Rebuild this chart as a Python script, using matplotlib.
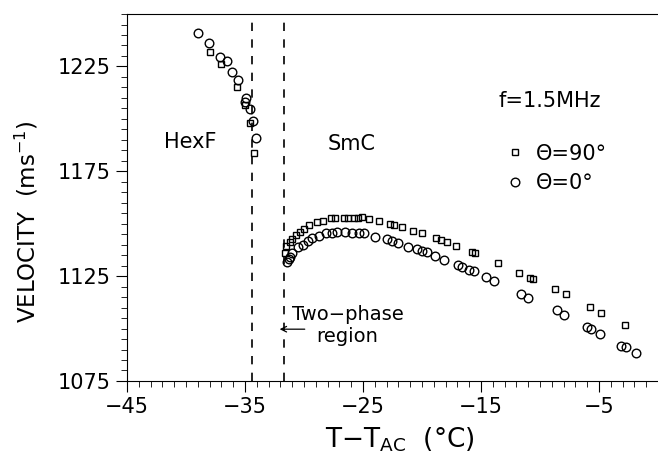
import matplotlib.pyplot as plt
from matplotlib.ticker import MultipleLocator
from matplotlib.lines import Line2D

plt.rcParams['font.family'] = ['DejaVu Sans']
plt.rcParams['mathtext.default'] = 'regular'

# theta = 90 deg (squares)
temp_sq = [-38.0, -37.0, -35.7, -34.96, -34.6, -34.2,
           -31.6, -31.5, -31.2, -31.0, -30.7, -30.3, -30.0, -29.6, -28.9, -28.4,
           -27.7, -27.4, -26.6, -26.3, -25.8, -25.4, -25.05, -24.5, -23.65, -22.7,
           -22.4, -21.7, -20.8, -20.0, -18.8, -18.4, -17.9, -17.1, -15.8, -15.5,
           -13.6, -11.8, -10.85, -10.6, -8.7, -7.8, -5.8, -4.8, -2.8]
vel_sq = [1231.8, 1226.4, 1215.0, 1206.5, 1198.2, 1183.8,
          1136.0, 1139.5, 1141.1, 1142.7, 1144.8, 1146.2, 1147.5, 1149.5, 1150.9, 1151.4,
          1152.5, 1152.7, 1152.8, 1152.9, 1152.8, 1152.5, 1153.0, 1152.2, 1151.1, 1149.8,
          1149.4, 1148.6, 1146.7, 1145.4, 1143.2, 1142.2, 1141.1, 1139.5, 1136.3, 1135.9,
          1131.2, 1126.6, 1124.0, 1123.6, 1118.7, 1116.3, 1110.3, 1107.6, 1101.6]

# theta = 0 deg (circles)
temp_ci = [-39.0, -38.05, -37.1, -36.5, -36.1, -35.6, -34.9, -35.0, -34.6, -34.3, -34.1,
           -31.4, -31.3, -31.2, -31.0, -30.5, -30.1, -29.7, -29.3, -28.7, -28.1, -27.6,
           -27.2, -26.5, -25.9, -25.3, -24.9, -24.0, -23.0, -22.5, -22.0, -21.2, -20.4,
           -20.0, -19.6, -18.9, -18.1, -16.95, -16.6, -16.0, -15.6, -14.6, -13.9, -11.6,
           -11.0, -8.6, -8.0, -6.0, -5.65, -4.9, -3.1, -2.7, -1.9]
vel_ci = [1241.1, 1236.2, 1229.7, 1227.7, 1222.3, 1218.7, 1210.0, 1208.0, 1204.9, 1199.2, 1191.0,
          1131.6, 1133.0, 1134.3, 1135.9, 1138.7, 1140.0, 1141.6, 1143.0, 1144.3, 1145.4, 1145.7,
          1145.9, 1145.9, 1145.7, 1145.5, 1145.4, 1143.8, 1142.5, 1141.6, 1140.8, 1139.1, 1138.0,
          1137.2, 1136.4, 1134.8, 1132.7, 1130.1, 1129.4, 1128.0, 1127.4, 1124.5, 1122.9, 1116.6,
          1114.7, 1108.7, 1106.6, 1100.8, 1100.0, 1097.6, 1091.8, 1091.0, 1088.4]

transitions = [-34.4, -31.7]

fig = plt.figure(figsize=(6.58, 4.53), dpi=100)
ax = fig.add_axes([0.193, 0.159, 0.807, 0.81])

ax.plot(temp_sq, vel_sq, ls='none', marker='s', ms=5, mfc='none', mec='black', mew=1.0)
ax.plot(temp_ci, vel_ci, ls='none', marker='o', ms=6.2, mfc='none', mec='black', mew=1.0)

for t in transitions:
    ax.axvline(t, color='black', lw=1.2, ls=(0, (5, 5)))

ax.set_xlim(-45, 0)
ax.set_ylim(1075, 1250)
ax.set_xticks([-45, -35, -25, -15, -5])
ax.set_yticks([1075, 1125, 1175, 1225])
ax.xaxis.set_minor_locator(MultipleLocator(1))
ax.yaxis.set_minor_locator(MultipleLocator(5))
ax.tick_params(which='major', direction='out', length=8, width=0.8, labelsize=15)
ax.tick_params(which='minor', direction='out', length=4, width=0.6)
ax.spines['right'].set_visible(False)

ax.text(-39.6, 1189, 'HexF', fontsize=15, ha='center', va='center')
ax.text(-26.0, 1188, 'SmC', fontsize=15, ha='center', va='center')
ax.text(-26.3, 1101.5, 'Two\u2212phase\nregion', fontsize=14, ha='center', va='center',
        linespacing=1.2)
ax.annotate('', xy=(-32.3, 1099.7), xytext=(-29.7, 1099.7),
            arrowprops=dict(arrowstyle='->', color='black', lw=0.9))

ax.text(-13.5, 1208.5, 'f=1.5MHz', fontsize=15, ha='left', va='center')
handles = [Line2D([], [], ls='none', marker='s', ms=5, mfc='none', mec='black', mew=1.0),
           Line2D([], [], ls='none', marker='o', ms=6.2, mfc='none', mec='black', mew=1.0)]
ax.legend(handles, ['\u0398=90\u00b0', '\u0398=0\u00b0'],
          loc='upper left', bbox_to_anchor=(0.675, 0.698), frameon=False,
          fontsize=15, handletextpad=0.5, labelspacing=0.45, handlelength=1.0)

fig.text(27 / 658, 1 - 222 / 453, 'VELOCITY  (ms$^{-1}$)', rotation=90, fontsize=16.5,
         ha='center', va='center')
fig.text(400 / 658, 1 - 440 / 453, 'T$-$T$_{AC}$  (\u00b0C)', fontsize=19,
         ha='center', va='center')

fig.savefig('out.png', dpi=100)
